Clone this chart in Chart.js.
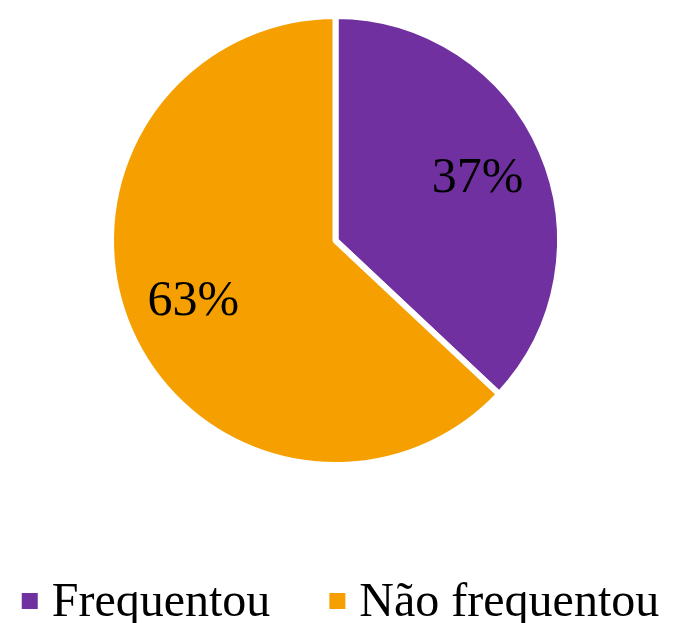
<!DOCTYPE html>
<html>
<head>
<meta charset="utf-8">
<script src="https://cdn.jsdelivr.net/npm/chart.js@4/dist/chart.umd.min.js"></script>
<style>
  html, body { margin: 0; padding: 0; background: #fff; }
  #wrap { width: 681px; height: 623px; }
</style>
</head>
<body>
<div id="wrap"><canvas id="pie" width="681" height="623"></canvas></div>
<script>
// Chart data
var categories = ['Frequentou', 'Não frequentou'];
var shares = [37, 63];
var sliceColors = ['#7030A0', '#F5A000'];

var serif = '"Liberation Serif", "Times New Roman", serif';

// Percent labels inside each slice
var sliceLabels = {
    id: 'sliceLabels',
    afterDatasetsDraw: function(chart) {
        var ctx = chart.ctx;
        var meta = chart.getDatasetMeta(0);
        ctx.save();
        ctx.font = '50px ' + serif;
        ctx.fillStyle = '#000';
        ctx.textAlign = 'center';
        ctx.textBaseline = 'middle';
        meta.data.forEach(function(arc, i) {
            var p = arc.getProps(['x', 'y', 'startAngle', 'endAngle', 'outerRadius'], true);
            var mid = (p.startAngle + p.endAngle) / 2;
            var r = p.outerRadius * 0.69;
            ctx.fillText(shares[i] + '%', p.x + Math.cos(mid) * r, p.y + Math.sin(mid) * r);
        });
        ctx.restore();
    }
};

// Legend drawn under the pie, square markers like the original
var bottomLegend = {
    id: 'bottomLegend',
    afterDraw: function(chart) {
        var ctx = chart.ctx;
        var box = 16, gap = 14, spacing = 59, baseline = 616;
        ctx.save();
        ctx.font = '48px ' + serif;
        var widths = categories.map(function(c) { return ctx.measureText(c).width; });
        var total = 0;
        widths.forEach(function(w, i) { total += box + gap + w + (i > 0 ? spacing : 0); });
        var x = (chart.width - total) / 2;
        categories.forEach(function(c, i) {
            ctx.fillStyle = sliceColors[i];
            ctx.fillRect(x, 593, box, box);
            ctx.fillStyle = '#000';
            ctx.textAlign = 'left';
            ctx.textBaseline = 'alphabetic';
            ctx.fillText(c, x + box + gap, baseline);
            x += box + gap + widths[i] + spacing;
        });
        ctx.restore();
    }
};

new Chart(document.getElementById('pie'), {
    type: 'pie',
    data: {
        labels: categories,
        datasets: [{
            data: shares,
            backgroundColor: sliceColors,
            borderColor: '#ffffff',
            borderWidth: 6
        }]
    },
    options: {
        responsive: false,
        animation: false,
        layout: { padding: { top: 13, bottom: 155, left: 0, right: 10 } },
        plugins: {
            legend: { display: false },
            tooltip: { enabled: false }
        }
    },
    plugins: [sliceLabels, bottomLegend]
});
</script>
</body>
</html>
